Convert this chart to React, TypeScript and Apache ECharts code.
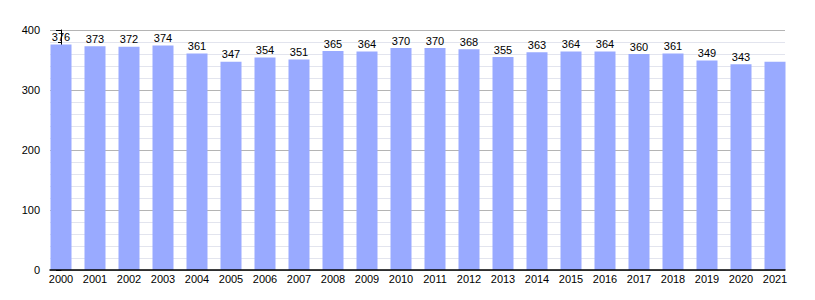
import React, { useEffect, useRef } from "react";
import * as echarts from "echarts";

const years = ["2000","2001","2002","2003","2004","2005","2006","2007","2008","2009","2010","2011","2012","2013","2014","2015","2016","2017","2018","2019","2020","2021"];
const values = [376,373,372,374,361,347,354,351,365,364,370,370,368,355,363,364,364,360,361,349,343,347];
const showLabel = [true,true,true,true,true,true,true,true,true,true,true,true,true,true,true,true,true,true,true,true,true,false];
const yTicks = [0,100,200,300,400];

export default function App() {
  const ref = useRef<HTMLDivElement>(null);
  useEffect(() => {
    document.body.style.margin = "0";
    const chart = echarts.init(ref.current!, null, { renderer: "svg" });
    const font = "'Liberation Sans', Arial, sans-serif";
    chart.setOption({
      animation: false,
      grid: { left: 50, right: 30, top: 30, bottom: 30 },
      xAxis: {
        type: "value",
        z: 5,
        min: -11 / 34,
        max: 724 / 34,
        axisLine: { show: true, onZero: false, lineStyle: { color: "#000", width: 1.5 } },
        axisTick: { show: false },
        splitLine: { show: false },
        axisLabel: {
          customValues: years.map((_, i) => i),
          formatter: (v: number) => years[Math.round(v)] ?? "",
          color: "#000",
          fontSize: 11,
          fontFamily: font,
          margin: 3,
        },
      },
      yAxis: {
        type: "value",
        min: yTicks[0],
        max: yTicks[yTicks.length - 1],
        interval: 100,
        axisLine: { show: true, lineStyle: { color: "#000", width: 1 } },
        axisTick: { show: true, length: 5, lineStyle: { color: "#000" } },
        minorTick: { show: true, splitNumber: 5, length: 3, lineStyle: { color: "#000" } },
        splitLine: { show: true, lineStyle: { color: "#b4b4b4", width: 1 } },
        minorSplitLine: { show: true, lineStyle: { color: "#e2e4ee", width: 1 } },
        axisLabel: { color: "#000", fontSize: 11, fontFamily: font, margin: 10 },
      },
      series: [
        {
          type: "bar",
          barWidth: 21,
          itemStyle: { color: "#99aaff" },
          data: values.map((v, i) => ({
            value: [i, v],
            label: { show: showLabel[i] },
          })),
          label: {
            show: true,
            position: "top",
            distance: 2,
            color: "#000",
            fontSize: 11,
            fontFamily: font,
            formatter: (p: any) => String(p.value[1]),
          },
        },
      ],
    });
    return () => chart.dispose();
  }, []);
  return <div ref={ref} style={{ width: 815, height: 300 }} />;
}
